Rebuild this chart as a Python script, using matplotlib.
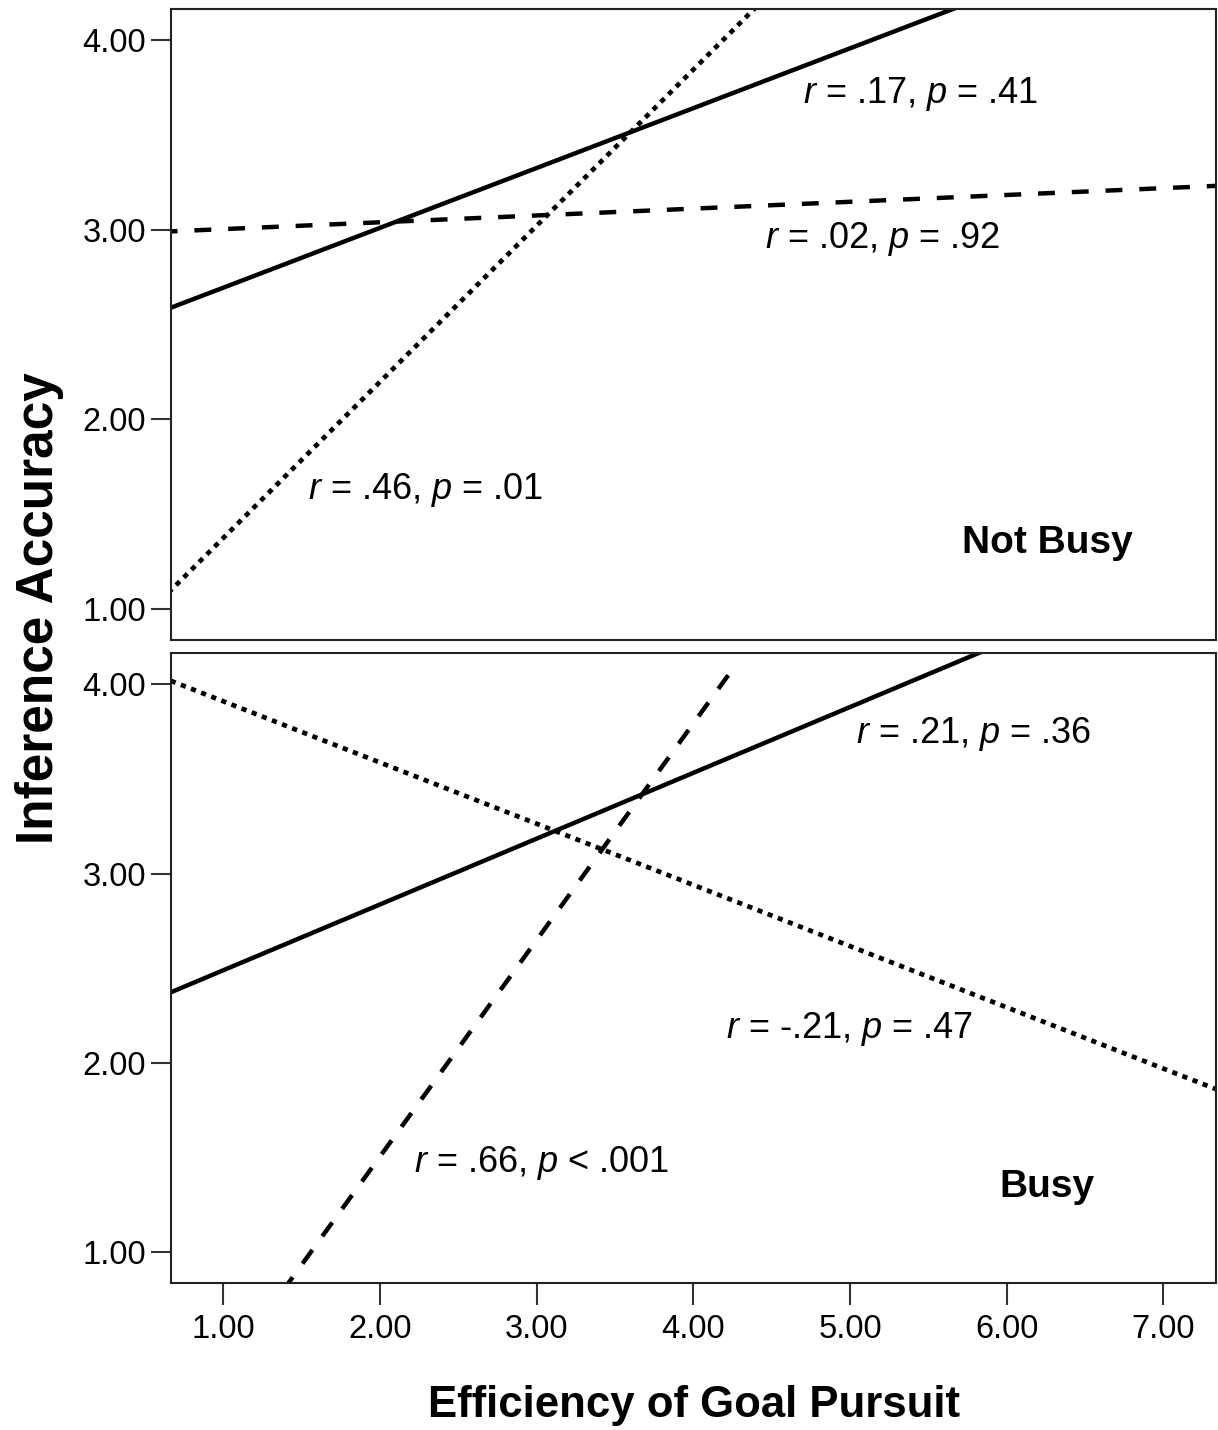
import matplotlib.pyplot as plt

plt.rcParams['font.family'] = ['Liberation Sans', 'DejaVu Sans']
plt.rcParams['mathtext.fontset'] = 'custom'
plt.rcParams['mathtext.rm'] = 'Liberation Sans'
plt.rcParams['mathtext.it'] = 'Liberation Sans:italic'

# regression lines, two points each (x, y)
top_solid_x = [0.6, 7.0]
top_solid_y = [2.569, 4.59]
top_dashed_x = [0.6, 7.4]
top_dashed_y = [2.99, 3.235]
top_dotted_x = [0.6, 5.0]
top_dotted_y = [1.045, 4.67]

bot_solid_x = [0.6, 7.0]
bot_solid_y = [2.35, 4.576]
bot_dotted_x = [0.6, 7.4]
bot_dotted_y = [4.04, 1.84]
bot_dashed_x = [1.0, 4.25]
bot_dashed_y = [0.36, 4.08]

yticks = [1, 2, 3, 4]
xticks = [1, 2, 3, 4, 5, 6, 7]

top_notes = [(4.70, 3.72, '$r$ = .17, $p$ = .41'),
             (4.46, 2.95, '$r$ = .02, $p$ = .92'),
             (1.54, 1.63, '$r$ = .46, $p$ = .01')]
bot_notes = [(5.04, 3.74, '$r$ = .21, $p$ = .36'),
             (4.21, 2.18, '$r$ = -.21, $p$ = .47'),
             (2.22, 1.47, '$r$ = .66, $p$ < .001')]

fig = plt.figure(figsize=(12.18, 14.30), dpi=100)
ax1 = fig.add_axes([171/1218, 1-640/1430, (1216-171)/1218, (640-9)/1430])
ax2 = fig.add_axes([171/1218, 1-1283/1430, (1216-171)/1218, (1283-653)/1430])

lw = 3.2
dash = (0, (3.8, 3.8))
dot = (0, (1.1, 1.2))

ax1.plot(top_solid_x, top_solid_y, color='black', lw=lw)
ax1.plot(top_dashed_x, top_dashed_y, color='black', lw=lw, linestyle=dash)
ax1.plot(top_dotted_x, top_dotted_y, color='black', lw=3.4, linestyle=dot)

ax2.plot(bot_solid_x, bot_solid_y, color='black', lw=lw)
ax2.plot(bot_dotted_x, bot_dotted_y, color='black', lw=3.4, linestyle=dot)
ax2.plot(bot_dashed_x, bot_dashed_y, color='black', lw=lw, linestyle=dash)

for x, y, s in top_notes:
    ax1.text(x, y, s, fontsize=26, ha='left', va='center')
for x, y, s in bot_notes:
    ax2.text(x, y, s, fontsize=26, ha='left', va='center')

ax1.text(6.26, 1.35, 'Not Busy', fontsize=28, fontweight='bold', ha='center', va='center')
ax2.text(6.26, 1.345, 'Busy', fontsize=28, fontweight='bold', ha='center', va='center')

for ax in (ax1, ax2):
    ax.set_xlim(0.666, 7.336)
    ax.set_ylim(0.836, 4.166)
    ax.set_yticks(yticks)
    ax.set_yticklabels(['%.2f' % v for v in yticks], fontweight='medium')
    ax.tick_params(axis='y', direction='out', length=14.5, width=1.5,
                   color='#333333', labelsize=23.5, pad=3.5)
    for sp in ax.spines.values():
        sp.set_linewidth(1.5)
        sp.set_color('#222222')

ax1.set_xticks([])
ax2.set_xticks(xticks)
ax2.set_xticklabels(['%.2f' % v for v in xticks])
ax2.tick_params(axis='x', direction='out', length=15.5, width=1.5,
                color='#333333', labelsize=23.5, pad=7)

fig.text(40/1218, 1-608/1430, 'Inference Accuracy', rotation=90, fontsize=37,
         fontweight='bold', ha='center', va='center')
fig.text(694/1218, 1-1405/1430, 'Efficiency of Goal Pursuit', fontsize=31.5,
         fontweight='bold', ha='center', va='center')

fig.savefig('out.png', dpi=100)
